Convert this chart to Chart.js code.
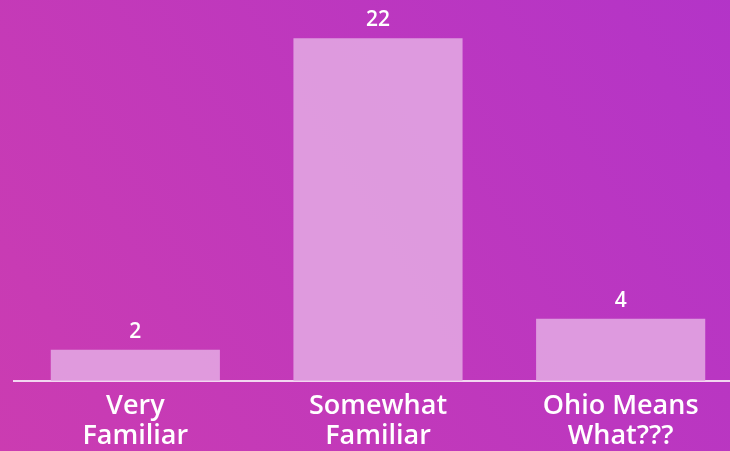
<!DOCTYPE html>
<html>
<head>
<meta charset="utf-8">
<script src="https://cdn.jsdelivr.net/npm/chart.js@4.4.0/dist/chart.umd.min.js"></script>
<style>
  html, body { margin: 0; padding: 0; overflow: hidden; width: 730px; height: 451px; }
  #wrap { position: relative; width: 742px; height: 451px; }
</style>
</head>
<body>
<div id="wrap"><canvas id="chart" width="742" height="451"></canvas></div>
<script>
const categories = [['Very', 'Familiar'], ['Somewhat', 'Familiar'], ['Ohio Means', 'What???']];
const responses = [2, 22, 4];

// gradient backdrop behind the whole canvas
const backdrop = {
  id: 'backdrop',
  beforeDraw(chart) {
    const ctx = chart.ctx;
    const g = ctx.createLinearGradient(0, chart.height, chart.width, 0);
    g.addColorStop(0, '#cb3cb1');
    g.addColorStop(1, '#b334c8');
    ctx.save();
    ctx.fillStyle = g;
    ctx.fillRect(0, 0, chart.width, chart.height);
    ctx.restore();
  }
};

// value labels above each bar
const valueLabels = {
  id: 'valueLabels',
  afterDatasetsDraw(chart) {
    const ctx = chart.ctx;
    const meta = chart.getDatasetMeta(0);
    ctx.save();
    ctx.fillStyle = '#ffffff';
    ctx.font = '600 21px "Open Sans"';
    ctx.textAlign = 'center';
    ctx.textBaseline = 'middle';
    meta.data.forEach((bar, i) => {
      ctx.fillText(String(chart.data.datasets[0].data[i]), bar.x, bar.y - 18);
    });
    ctx.restore();
  }
};

new Chart(document.getElementById('chart'), {
  type: 'bar',
  data: {
    labels: categories,
    datasets: [{
      data: responses,
      backgroundColor: 'rgba(228, 172, 228, 0.85)',
      borderWidth: 0,
      categoryPercentage: 1,
      barPercentage: 0.697
    }]
  },
  options: {
    responsive: false,
    animation: false,
    devicePixelRatio: 1,
    layout: { padding: { left: 14, top: 7, right: 0, bottom: 0 } },
    plugins: { legend: { display: false }, tooltip: { enabled: false } },
    scales: {
      y: { display: false, min: 0, max: 24 },
      x: {
        afterFit(scale) { scale.height = 70; },
        grid: { display: false, drawTicks: false },
        border: { display: true, color: '#f3d6f1', width: 2 },
        ticks: {
          color: '#ffffff',
          padding: 10,
          font: { family: 'Open Sans', size: 27, weight: '600', lineHeight: 1.12 }
        }
      }
    }
  },
  plugins: [backdrop, valueLabels]
});
</script>
</body>
</html>
